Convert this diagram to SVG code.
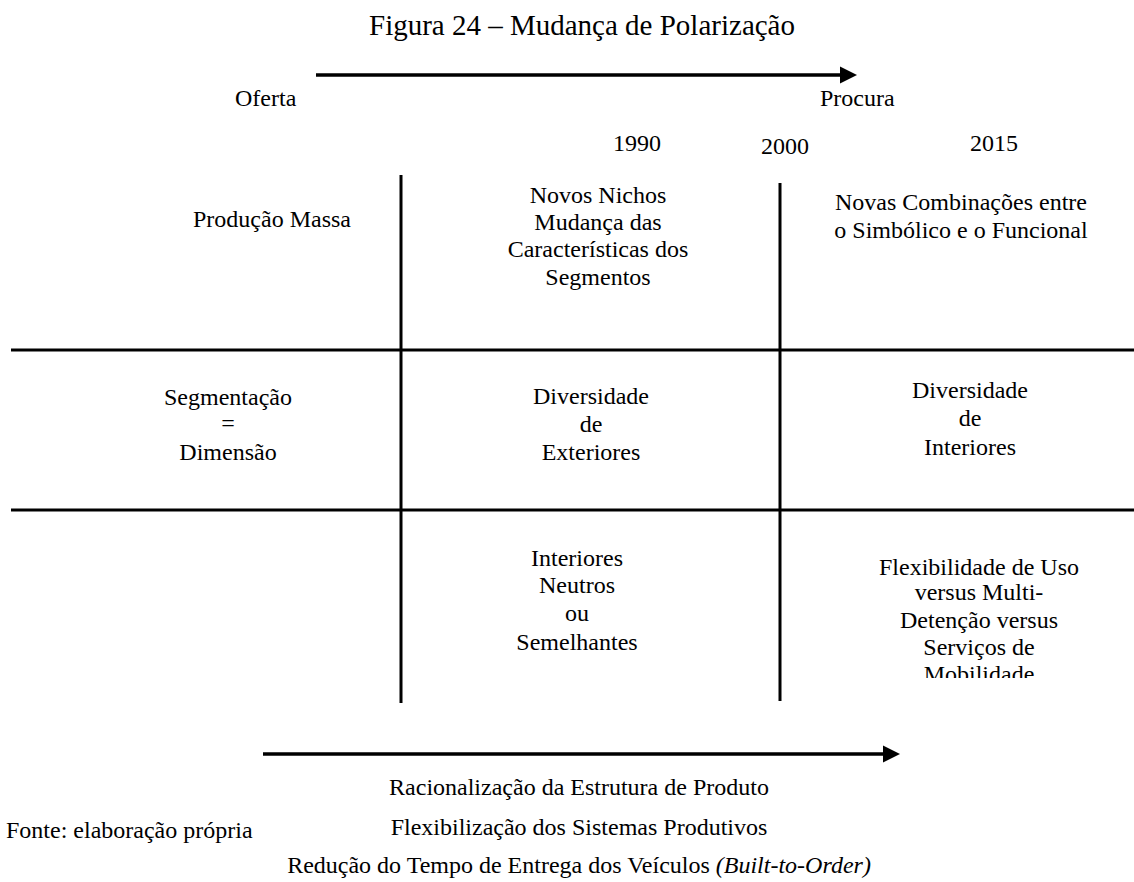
<svg xmlns="http://www.w3.org/2000/svg" width="1134" height="882" viewBox="0 0 1134 882">
  <style>
    text { font-family: "Liberation Serif", "Times New Roman", serif; font-size: 24px; fill: #000; }
    .c { text-anchor: middle; }
    .title { font-size: 29px; }
    .grid { stroke: #000; stroke-width: 3; fill: none; }
    .arrow { stroke: #000; stroke-width: 3.5; fill: none; }
  </style>
  <defs>
    <marker id="head" markerWidth="5" markerHeight="5" refX="1" refY="2.5" orient="auto" markerUnits="strokeWidth">
      <path d="M0,0 L5,2.5 L0,5 Z" fill="#000"/>
    </marker>
    <clipPath id="cellClip"><rect x="800" y="540" width="320" height="138"/></clipPath>
  </defs>

  <text class="c title" x="582" y="35">Figura 24 – Mudança de Polarização</text>

  <g id="connectors">
    <line class="arrow" x1="316" y1="75" x2="843" y2="75" marker-end="url(#head)"/>
    <line class="arrow" x1="263" y1="754" x2="886" y2="754" marker-end="url(#head)"/>
  </g>

  <g id="grid">
    <line class="grid" x1="401" y1="175" x2="401" y2="703"/>
    <line class="grid" x1="780" y1="183" x2="780" y2="701"/>
    <line class="grid" x1="11" y1="350" x2="1134" y2="350"/>
    <line class="grid" x1="11" y1="510" x2="1134" y2="510"/>
  </g>

  <g id="axis-labels">
    <text x="235" y="106">Oferta</text>
    <text x="820" y="106">Procura</text>
    <text class="c" x="637" y="151">1990</text>
    <text class="c" x="785" y="154">2000</text>
    <text class="c" x="994" y="151">2015</text>
  </g>

  <g id="producao-massa">
    <text class="c" x="272" y="227">Produção Massa</text>
  </g>
  <g id="novos-nichos">
    <text class="c" x="598" y="203">Novos Nichos</text>
    <text class="c" x="598" y="230">Mudança das</text>
    <text class="c" x="598" y="257">Características dos</text>
    <text class="c" x="598" y="285">Segmentos</text>
  </g>
  <g id="novas-combinacoes">
    <text class="c" x="961" y="210">Novas Combinações entre</text>
    <text class="c" x="961" y="238">o Simbólico e o Funcional</text>
  </g>

  <g id="segmentacao">
    <text class="c" x="228" y="405">Segmentação</text>
    <text class="c" x="228" y="431">=</text>
    <text class="c" x="228" y="460">Dimensão</text>
  </g>
  <g id="diversidade-exteriores">
    <text class="c" x="591" y="404">Diversidade</text>
    <text class="c" x="591" y="432">de</text>
    <text class="c" x="591" y="460">Exteriores</text>
  </g>
  <g id="diversidade-interiores">
    <text class="c" x="970" y="398">Diversidade</text>
    <text class="c" x="970" y="426">de</text>
    <text class="c" x="970" y="455">Interiores</text>
  </g>

  <g id="interiores-neutros">
    <text class="c" x="577" y="566">Interiores</text>
    <text class="c" x="577" y="593">Neutros</text>
    <text class="c" x="577" y="621">ou</text>
    <text class="c" x="577" y="650">Semelhantes</text>
  </g>
  <g id="flexibilidade-uso">
    <g clip-path="url(#cellClip)">
      <text class="c" x="979" y="575">Flexibilidade de Uso</text>
      <text class="c" x="979" y="600">versus Multi-</text>
      <text class="c" x="979" y="628">Detenção versus</text>
      <text class="c" x="979" y="655">Serviços de</text>
      <text class="c" x="979" y="682">Mobilidade</text>
    </g>
  </g>

  <g id="bottom-labels">
    <text class="c" x="579" y="795">Racionalização da Estrutura de Produto</text>
    <text class="c" x="579" y="835">Flexibilização dos Sistemas Produtivos</text>
    <text class="c" x="579" y="873">Redução do Tempo de Entrega dos Veículos <tspan font-style="italic">(Built-to-Order)</tspan></text>
    <text x="6" y="838">Fonte: elaboração própria</text>
  </g>
</svg>
